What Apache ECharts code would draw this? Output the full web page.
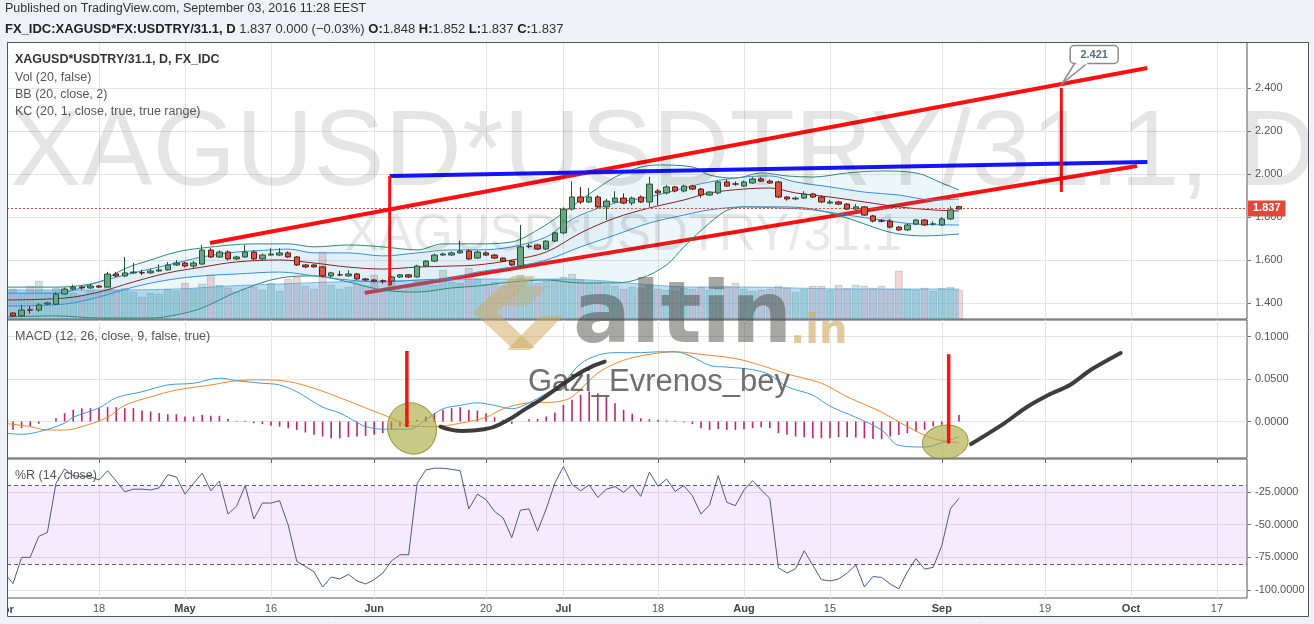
<!DOCTYPE html>
<html>
<head>
<meta charset="utf-8">
<title>XAGUSD*USDTRY/31.1, D</title>
<script src="https://cdn.jsdelivr.net/npm/echarts@6.0.0/dist/echarts.min.js"></script>
<style>
html,body{margin:0;padding:0;background:#eef1f5;overflow:hidden;}
#chart{width:1314px;height:624px;}
</style>
</head>
<body>
<div id="chart"></div>
<script>
// ================= DATA =================
// daily bars, index 0 = 2016-04-01 ; [open, close, low, high]
const ohlc = [
[1.381,1.353,1.345,1.390],[1.353,1.340,1.335,1.357],[1.340,1.367,1.336,1.391],[1.368,1.367,1.352,1.385],
[1.367,1.391,1.360,1.400],[1.395,1.400,1.390,1.405],[1.395,1.442,1.390,1.450],[1.442,1.465,1.440,1.472],
[1.465,1.474,1.460,1.485],[1.474,1.470,1.462,1.480],[1.470,1.479,1.465,1.488],[1.479,1.474,1.470,1.483],
[1.474,1.535,1.472,1.545],[1.535,1.526,1.520,1.545],[1.526,1.540,1.520,1.614],[1.540,1.544,1.535,1.586],
[1.541,1.540,1.530,1.555],[1.540,1.549,1.535,1.560],[1.549,1.554,1.545,1.580],[1.554,1.577,1.550,1.590],
[1.577,1.586,1.572,1.600],[1.586,1.572,1.565,1.592],[1.572,1.586,1.560,1.595],[1.581,1.646,1.578,1.670],
[1.646,1.614,1.610,1.655],[1.614,1.637,1.610,1.645],[1.637,1.605,1.598,1.645],[1.605,1.614,1.600,1.620],
[1.614,1.637,1.610,1.670],[1.637,1.605,1.600,1.645],[1.605,1.623,1.600,1.630],[1.623,1.628,1.620,1.655],
[1.623,1.633,1.618,1.655],[1.633,1.614,1.610,1.640],[1.614,1.577,1.572,1.618],[1.577,1.568,1.562,1.580],
[1.577,1.568,1.565,1.580],[1.568,1.526,1.520,1.572],[1.526,1.540,1.520,1.545],[1.531,1.531,1.525,1.550],
[1.526,1.535,1.522,1.552],[1.535,1.512,1.508,1.540],[1.512,1.507,1.502,1.516],[1.507,1.502,1.497,1.510],
[1.503,1.502,1.490,1.510],[1.502,1.521,1.484,1.525],[1.521,1.531,1.516,1.535],[1.531,1.521,1.516,1.535],
[1.521,1.572,1.518,1.578],[1.572,1.595,1.568,1.600],[1.595,1.623,1.590,1.630],[1.623,1.628,1.620,1.635],
[1.623,1.633,1.620,1.640],[1.633,1.642,1.630,1.690],[1.642,1.605,1.600,1.650],[1.609,1.637,1.605,1.645],
[1.633,1.623,1.620,1.640],[1.623,1.609,1.605,1.628],[1.609,1.595,1.590,1.612],[1.595,1.577,1.572,1.600],
[1.572,1.661,1.568,1.763],[1.662,1.665,1.655,1.675],[1.670,1.651,1.646,1.675],[1.651,1.688,1.646,1.692],
[1.688,1.726,1.684,1.730],[1.726,1.837,1.720,1.845],[1.837,1.893,1.830,1.967],[1.893,1.870,1.860,1.940],
[1.870,1.893,1.865,1.935],[1.893,1.847,1.840,1.900],[1.847,1.874,1.786,1.885],[1.870,1.888,1.865,1.920],
[1.888,1.865,1.860,1.910],[1.865,1.888,1.855,1.895],[1.893,1.870,1.865,1.900],[1.870,1.953,1.847,1.986],
[1.921,1.912,1.856,1.930],[1.912,1.940,1.905,1.950],[1.940,1.921,1.915,1.945],[1.921,1.944,1.915,1.950],
[1.944,1.930,1.925,1.950],[1.930,1.902,1.890,1.935],[1.902,1.916,1.898,1.920],[1.912,1.963,1.905,1.970],
[1.963,1.944,1.940,1.975],[1.954,1.953,1.945,1.965],[1.944,1.963,1.940,1.970],[1.958,1.977,1.955,1.985],
[1.977,1.967,1.963,1.985],[1.967,1.958,1.955,1.975],[1.963,1.893,1.888,1.968],[1.893,1.884,1.876,1.897],
[1.884,1.888,1.878,1.895],[1.888,1.907,1.884,1.920],[1.907,1.893,1.888,1.912],[1.893,1.870,1.865,1.900],
[1.865,1.870,1.860,1.880],[1.870,1.860,1.855,1.875],[1.860,1.837,1.832,1.865],[1.837,1.847,1.832,1.860],
[1.847,1.809,1.805,1.850],[1.805,1.781,1.775,1.810],[1.782,1.781,1.775,1.790],[1.781,1.753,1.748,1.790],
[1.753,1.740,1.735,1.757],[1.740,1.763,1.735,1.770],[1.767,1.786,1.762,1.790],[1.786,1.763,1.758,1.790],
[1.767,1.768,1.760,1.780],[1.763,1.791,1.758,1.800],[1.791,1.833,1.785,1.850],[1.848,1.837,1.837,1.852]
];
// volume (relative units)
const volume = [28,30,26,33,38,27,31,29,26,24, 28,27,33,29,31,27,22,26,25,30, 28,36,30,35,44,34,31,27,30,32,
 29,36,28,40,42,33,30,67,34,30, 32,35,33,44,30,36,29,33,38,35, 34,49,37,36,51,40,35,37,33,38,
 44,39,36,38,40,42,45,39,36,37, 34,33,30,32,31,34,30,29,28,31, 30,32,29,31,33,36,30,28,29,30,
 33,31,27,30,33,33,29,34,31,34, 33,31,33,30,48,30,29,31,28,31, 32,29];
const volumeMA = [[0,29],[10,29],[20,30],[26,33],[32,35],[38,37],[44,38],[50,39],[56,40],[62,40],[68,39],[74,35],[80,32],[86,32],[92,31],[98,30],[104,30],[111,30]];
// Bollinger (20, close, 2)
const bbUpper = [[0,1.474],[6,1.474],[11,1.498],[14,1.56],[17,1.600],[20,1.637],[23,1.656],[29,1.675],[33,1.675],[36,1.661],[40,1.670],[44,1.661],[48,1.647],[51,1.675],[55,1.675],[59,1.684],[62,1.74],[65,1.819],[68,1.907],[72,2.005],[76,2.042],[80,2.033],[82,1.995],[85,1.981],[88,2.005],[91,1.991],[94,1.986],[98,2.005],[102,2.014],[106,2.005],[109,1.958],[111,1.926]];
const bbLower = [[0,1.335],[6,1.340],[11,1.330],[17,1.330],[20,1.345],[23,1.377],[27,1.451],[32,1.516],[36,1.526],[40,1.498],[44,1.460],[48,1.451],[52,1.470],[55,1.479],[59,1.498],[63,1.507],[67,1.493],[71,1.493],[74,1.515],[77,1.577],[79,1.661],[82,1.772],[84,1.830],[86,1.847],[90,1.847],[94,1.837],[98,1.795],[102,1.740],[104,1.721],[107,1.712],[111,1.721]];
const bbBasis = [[0,1.414],[7,1.423],[11,1.451],[15,1.498],[19,1.540],[23,1.567],[27,1.591],[32,1.600],[36,1.586],[40,1.567],[44,1.558],[48,1.567],[52,1.572],[55,1.577],[59,1.600],[63,1.637],[67,1.726],[71,1.795],[75,1.842],[79,1.879],[82,1.912],[86,1.930],[89,1.935],[92,1.912],[96,1.893],[100,1.870],[104,1.847],[108,1.833],[111,1.828]];
// Keltner (20, 1)
const kcUpper = [[0,1.446],[6,1.446],[11,1.498],[15,1.540],[19,1.577],[23,1.614],[27,1.637],[31,1.647],[33,1.651],[36,1.633],[40,1.633],[44,1.619],[48,1.633],[52,1.647],[55,1.647],[59,1.661],[63,1.707],[65,1.763],[67,1.809],[71,1.865],[75,1.893],[79,1.935],[82,1.963],[86,1.986],[89,1.991],[92,1.963],[96,1.940],[100,1.916],[104,1.902],[108,1.879],[111,1.884]];
const kcLower = [[0,1.386],[7,1.395],[11,1.428],[15,1.474],[19,1.507],[23,1.526],[27,1.535],[32,1.544],[36,1.526],[40,1.507],[44,1.498],[48,1.507],[52,1.516],[55,1.544],[59,1.567],[63,1.600],[67,1.661],[71,1.716],[75,1.772],[79,1.809],[82,1.833],[86,1.847],[90,1.842],[94,1.833],[98,1.809],[102,1.786],[106,1.767],[111,1.763]];
// MACD (12, 26, 9)
const macdLine = [[0,-0.0135],[2,-0.015],[4,-0.012],[7,-0.002],[8,0.005],[11,0.016],[13,0.028],[16,0.035],[19,0.043],[22,0.045],[25,0.051],[27,0.048],[30,0.045],[32,0.043],[34,0.035],[37,0.017],[39,0.010],[41,-0.001],[42,-0.006],[44,-0.009],[47,-0.009],[49,0.002],[51,0.015],[53,0.019],[55,0.022],[57,0.019],[59,0.015],[61,0.022],[63,0.033],[65,0.046],[67,0.068],[69,0.078],[71,0.081],[74,0.081],[76,0.082],[78,0.082],[80,0.076],[82,0.066],[84,0.064],[87,0.061],[89,0.055],[91,0.041],[94,0.031],[96,0.018],[99,0.005],[102,-0.010],[104,-0.028],[107,-0.030],[109,-0.025],[111,-0.018]];
const signalLine = [[0,-0.002],[3,-0.006],[5,-0.010],[7,-0.010],[9,-0.006],[12,0.005],[14,0.019],[17,0.029],[20,0.037],[24,0.043],[27,0.048],[30,0.049],[33,0.047],[36,0.039],[39,0.028],[42,0.016],[45,0.004],[47,-0.005],[50,-0.006],[53,-0.002],[56,0.005],[58,0.015],[61,0.022],[64,0.023],[66,0.029],[69,0.057],[72,0.072],[75,0.079],[78,0.082],[81,0.079],[85,0.074],[88,0.066],[91,0.056],[95,0.045],[98,0.029],[102,0.011],[105,-0.006],[108,-0.020],[111,-0.025]];
const macdHist = [-0.011,-0.0098,-0.0078,-0.0059,-0.0027,0,0.0039,0.0098,0.0137,0.0157,0.0157,0.0157,0.0169,0.0169,0.0157,0.0157,0.0129,0.0118,0.0098,0.0086,0.0086,0.0059,0.0059,0.0078,0.0067,0.0067,0.0031,0.0008,0.0008,-0.002,-0.0031,-0.0051,-0.0059,-0.0078,-0.0098,-0.0129,-0.0157,-0.0176,-0.0196,-0.0196,-0.0184,-0.0176,-0.0169,-0.0157,-0.0137,-0.0098,-0.0059,-0.002,0.002,0.0059,0.0098,0.0137,0.0157,0.0169,0.0137,0.0129,0.0098,0.0051,0.002,-0.0027,0,0.0027,0.0031,0.0059,0.0106,0.0196,0.0255,0.0314,0.0353,0.0333,0.0294,0.0216,0.0137,0.009,0.0039,0.0027,0.002,
 0.0012,0.0008,-0.0012,-0.0031,-0.0078,-0.0098,-0.009,-0.0098,-0.0098,-0.009,-0.0078,-0.0067,-0.0078,-0.0137,-0.0157,-0.0176,-0.0184,-0.0196,-0.0196,-0.0196,-0.0184,-0.0184,-0.0188,-0.0196,-0.0204,-0.0208,-0.0176,-0.0157,-0.0137,-0.0118,-0.0098,-0.0059,-0.0039,0,0.0078];
// Williams %R (14)
const willR = [-87,-95,-75,-75,-59,-56,-18.5,-7.6,-12.7,-13.5,-13.5,-16,-9,-16.8,-25,-23,-23,-23.6,-22,-12,-13.7,-26.8,-18.5,-10.8,-24.2,-16.8,-42,-36,-20.3,-45.8,-33.6,-33.6,-31.8,-50.4,-78,-82,-86,-97.6,-90,-91.5,-88,-93,-95.3,-92,-87,-77.8,-73,-73,-18.5,-8.4,-7,-7,-7.9,-8.9,-38,-26.8,-31,-40,-45,-60,-39,-38,-55,-38,-18.5,-5.8,-19.3,-24.2,-19.7,-29.3,-23,-21,-25.4,-19.7,-28.5,-10,-20.8,
 -15.3,-24.7,-20.3,-28,-42,-35,-12.7,-33,-35.6,-23.6,-16.5,-23.6,-30,-83,-87,-83.6,-70,-81,-92,-93,-91.5,-87,-80.8,-97.6,-89.6,-90.3,-95.3,-99,-86,-76,-84,-82.6,-66,-38,-30];
// axis ticks
const xTicks = [[0,'Apr',1],[11,'18',0],[21,'May',1],[31,'16',0],[43,'Jun',1],[56,'20',0],[65,'Jul',1],[76,'18',0],[86,'Aug',1],[96,'15',0],[109,'Sep',1],[121,'19',0],[131,'Oct',1],[141,'17',0]];
const priceTicks = [1.4,1.6,1.8,2.0,2.2,2.4];
const macdTicks = [0,0.05,0.1];
const willTicks = [-100,-75,-50,-25];
const willBand = [-20,-80];
// texts
const publishedText = 'Published on TradingView.com, September 03, 2016 11:28 EEST';
const symbolFull = 'FX_IDC:XAGUSD*FX:USDTRY/31.1, D';
const changeText = '0.000 (\u22120.03%)';
const legendLines = ['XAGUSD*USDTRY/31.1, D, FX_IDC','Vol (20, false)','BB (20, close, 2)','KC (20, 1, close, true, true range)'];
const macdTitle = 'MACD (12, 26, close, 9, false, true)';
const willTitle = '%R (14, close)';
const watermarkBig = 'XAGUSD*USDTRY/31.1, D';
const watermarkSmall = 'XAGUSD*USDTRY/31.1';
const authorText = 'Gazi_Evrenos_bey';
// user drawings (data coordinates: bar index, value)
const upperTrend = [[23.9,1.679],[132.9,2.493]];
const lowerTrend = [[41.9,1.447],[131.7,2.037]];
const blueLevel = [[44.8,1.991],[132.9,2.056]];
const riseMark = [[44.8,1.991],[44.8,1.480]];
const targetMark = [[122.9,2.400],[122.9,1.916]];
const calloutAt = [123.0,2.421];
const calloutText = '2.421';
const macdMark1 = [[46.8,0.083],[46.8,-0.0065]];
const macdMark2 = [[109.8,0.079],[109.8,-0.0257]];
const crossZones = [[47.4,-0.0082],[109.4,-0.0241]];
const sketch1 = [[50.7,-0.0061],[53.3,-0.0112],[55.8,-0.0092],[58.2,-0.0002],[60.7,0.0155],[62.6,0.0273],[65.1,0.045],[67.5,0.0606],[69.8,0.0704]];
const sketch2 = [[112.4,-0.0265],[116.3,-0.0018],[118.9,0.0171],[121.4,0.0312],[123.9,0.0429],[126.3,0.0606],[129.8,0.0806]];

// ================= LAYOUT / STYLE =================
const FONT = '"Liberation Sans", Arial, sans-serif';
const xMin = 0.302, xMax = 144.49;
const pMin = 1.3256, pMax = 2.614;
const volMax = 277;
const mMin = -0.0429, mMax = 0.1194;
const rMin = -106, rMax = 0;
const BORDER = '#555';
const GRIDC = '#e4e4e4';
const BG = '#eef1f5';
const zoneShapes = [{rx:24, ry:26, rot:0.5},{rx:23, ry:17, rot:0.12}];

const tickIdx = xTicks.map(t => t[0]);
const tickText = {};
xTicks.forEach(t => { tickText[t[0]] = t[2] ? '{m|' + t[1] + '}' : t[1]; });
const last = ohlc[ohlc.length - 1];

const chart = echarts.init(document.getElementById('chart'), null, {renderer:'canvas', width:1314, height:624});

function xAx(gi, labels) {
  return {
    type:'value', gridIndex:gi, min:xMin, max:xMax,
    axisLine:{show:false},
    axisTick:{show:labels, customValues:tickIdx, length:4, lineStyle:{color:'#666'}},
    axisLabel:{show:labels, customValues:tickIdx, margin:5, fontSize:11, fontFamily:FONT, color:'#555',
      formatter: v => tickText[v] || '', rich:{m:{fontWeight:'bold', color:'#444', fontSize:11, fontFamily:FONT}}},
    splitLine:{show:true, lineStyle:{color:GRIDC, width:1}}
  };
}
function yAx(gi, min, max, ticks, digits, show) {
  return {
    type:'value', gridIndex:gi, min, max, position:'right', show: show !== false,
    axisLine:{show:false},
    axisTick:{show:true, customValues:ticks, length:4, lineStyle:{color:'#777'}},
    axisLabel:{customValues:ticks, margin:8, fontSize:11, fontFamily:FONT, color:'#555',
      formatter: v => v.toFixed(digits)},
    splitLine:{show:true, lineStyle:{color:GRIDC, width:1}}
  };
}
function line(data, color, z, width, xi, yi, extra) {
  return Object.assign({type:'line', xAxisIndex:xi, yAxisIndex:yi, data, symbol:'none', smooth:0.35,
    silent:true, z, lineStyle:{color, width}}, extra || {});
}
function bandFill(upper, lower, color) {
  return {
    type:'custom', xAxisIndex:0, yAxisIndex:0, clip:true, silent:true, z:3,
    data:[[50, 1.6]],
    renderItem: (params, api) => {
      const pts = upper.map(p => api.coord(p)).concat(lower.slice().reverse().map(p => api.coord(p)));
      return {type:'polygon', shape:{points:pts}, style:{fill:color}};
    }
  };
}

const option = {
  backgroundColor:'#ffffff',
  animation:false,
  grid:[
    {left:7, top:42, width:1240, height:277, show:true, borderColor:BORDER, borderWidth:1, backgroundColor:'transparent'},
    {left:7, top:320, width:1240, height:138, show:true, borderColor:BORDER, borderWidth:1, backgroundColor:'transparent'},
    {left:7, top:459, width:1240, height:139, show:true, borderColor:BORDER, borderWidth:1, backgroundColor:'transparent'}
  ],
  xAxis:[xAx(0,false), xAx(1,false), xAx(2,true)],
  yAxis:[
    yAx(0, pMin, pMax, priceTicks, 3),
    {type:'value', gridIndex:0, min:0, max:volMax, show:false, splitLine:{show:false}},
    yAx(1, mMin, mMax, macdTicks, 4),
    yAx(2, rMin, rMax, willTicks, 4)
  ],
  series:[
    // volume
    {type:'bar', xAxisIndex:0, yAxisIndex:1, z:1, barWidth:7.4, silent:true,
     data: volume.map((v,i) => ({value:[i,v], itemStyle:{color: ohlc[i][1] >= ohlc[i][0] ? 'rgba(110,175,125,0.32)' : 'rgba(225,120,110,0.30)',
       borderColor:'rgba(70,115,160,0.45)', borderWidth:0.6}}))},
    // lower channel line (beneath the volume average area)
    line(lowerTrend, '#ff1010', 2, 4, 0, 0, {smooth:false}),
    // volume average area
    line(volumeMA, 'rgba(60,150,215,0.6)', 3, 1, 0, 1, {smooth:0.4, areaStyle:{color:'rgba(60,155,215,0.48)', origin:'start'}}),
    // band fills
    bandFill(bbUpper, bbLower, 'rgba(25,135,160,0.08)'),
    bandFill(kcUpper, kcLower, 'rgba(33,150,243,0.06)'),
    // band lines
    line(bbUpper, '#2f8a78', 4, 1, 0, 0),
    line(bbLower, '#2f8a78', 4, 1, 0, 0),
    line(kcUpper, '#3a8fd6', 4, 1, 0, 0),
    line(kcLower, '#3a8fd6', 4, 1, 0, 0),
    line(bbBasis, '#872323', 4, 1, 0, 0),
    // candles
    {type:'candlestick', xAxisIndex:0, yAxisIndex:0, z:5, barWidth:6, silent:true,
     data: ohlc.map((d,i) => [i, d[0], d[1], d[2], d[3]]),
     encode:{x:0, y:[1,2,3,4]},
     itemStyle:{color:'#6ba583', color0:'#d75442', borderColor:'#225437', borderColor0:'#5b1a13', borderWidth:1},
     markLine:{silent:true, symbol:'none', animation:false,
       lineStyle:{color:'#e0483a', type:[2,2], width:1},
       label:{show:true, position:'end', formatter: last[1].toFixed(3), color:'#fff', backgroundColor:'#e0483a',
         fontWeight:'bold', fontSize:11, fontFamily:FONT, padding:[3,5,2,5], distance:1},
       data:[{yAxis:last[1]}]}},
    // drawings on price pane
    line(upperTrend, '#ff1010', 6, 4, 0, 0, {smooth:false}),
    line(blueLevel, '#1414ff', 6, 4, 0, 0, {smooth:false}),
    line(riseMark, '#ff1010', 6, 3, 0, 0, {smooth:false}),
    line(targetMark, '#ff1010', 6, 3, 0, 0, {smooth:false}),
    // MACD pane
    {type:'bar', xAxisIndex:1, yAxisIndex:2, z:2, barWidth:1.6, silent:true,
     data: macdHist.map((v,i) => [i,v]), itemStyle:{color:'#c0246a'}},
    line(signalLine, '#f5862f', 3, 1, 1, 2),
    line(macdLine, '#3f9be0', 3, 1, 1, 2),
    {type:'custom', xAxisIndex:1, yAxisIndex:2, clip:true, silent:true, z:4,
     data: crossZones,
     renderItem: (params, api) => {
       const c = api.coord([api.value(0), api.value(1)]);
       const s = zoneShapes[params.dataIndex];
       return {type:'ellipse', x:c[0], y:c[1], rotation:s.rot, shape:{cx:0, cy:0, rx:s.rx, ry:s.ry},
         style:{fill:'rgba(168,168,58,0.62)', stroke:'rgba(140,140,40,0.85)', lineWidth:1}};
     }},
    line(macdMark1, '#ff1010', 5, 3.5, 1, 2, {smooth:false}),
    line(macdMark2, '#ff1010', 5, 3.5, 1, 2, {smooth:false}),
    line(sketch1, '#333333', 60, 4, 1, 2, {smooth:0.5, lineStyle:{color:'rgba(45,45,45,0.92)', width:4, cap:'round'}}),
    line(sketch2, '#333333', 60, 4, 1, 2, {smooth:0.3, lineStyle:{color:'rgba(45,45,45,0.92)', width:4, cap:'round'}}),
    // %R pane
    {type:'line', xAxisIndex:2, yAxisIndex:3, z:3, symbol:'none', silent:true,
     data: willR.map((v,i) => [i,v]), lineStyle:{color:'#4a5a8c', width:1},
     markArea:{silent:true, itemStyle:{color:'rgba(153,21,255,0.09)'}, data:[[{yAxis:willBand[0]},{yAxis:willBand[1]}]]},
     markLine:{silent:true, symbol:'none', label:{show:false}, lineStyle:{color:'#5b5b7a', type:[4,3], width:1},
       data:[{yAxis:willBand[0]},{yAxis:willBand[1]}]}}
  ]
};
chart.setOption(option);

// ---- overlay graphics (positions of data-anchored ones taken from the axes) ----
const a = chart.convertToPixel({xAxisIndex:0, yAxisIndex:0}, calloutAt);
const aprX = chart.convertToPixel({xAxisIndex:2}, xTicks[0][0]);

const T = (text, x, y, size, color, weight, z, extra) => Object.assign({
  type:'text', z: z || 30, silent:true,
  style:{text, x, y, fontSize:size, fontFamily:FONT, fontWeight:weight || 'normal', fill:color, align:'left', verticalAlign:'middle'}
}, extra || {});

const graphics = [
  // watermarks
  T(watermarkBig, 10, 155, 107, 'rgba(0,0,0,0.10)', 'normal', 0),
  T(watermarkSmall, 345, 236, 51, 'rgba(0,0,0,0.095)', 'normal', 0),
  // logo
  {type:'polygon', z:40, silent:true, shape:{points:[[512,276],[535,276],[497,312],[535,348],[512,348],[473,312]]}, style:{fill:'rgba(205,168,90,0.50)'}},
  {type:'polygon', z:40, silent:true, shape:{points:[[540,316],[563,316],[530,350],[507,350]]}, style:{fill:'rgba(205,168,90,0.50)'}},
  {type:'polygon', z:40, silent:true, shape:{points:[[522,286],[548,286],[528,306],[503,306]]}, style:{fill:'rgba(205,168,90,0.35)'}},
  {type:'text', z:40, silent:true, style:{text:'altin', x:573, y:319.5, fontSize:86, fontFamily:'"DejaVu Sans", sans-serif', fontWeight:'bold', fill:'rgba(70,70,60,0.48)', verticalAlign:'middle'}},
  {type:'text', z:40, silent:true, style:{text:'.in', x:790, y:333, fontSize:40, fontFamily:'"DejaVu Sans", sans-serif', fontWeight:'bold', fill:'rgba(205,168,90,0.6)', verticalAlign:'middle'}},
  T(authorText, 528, 382, 31, 'rgba(95,95,95,0.9)', 'normal', 50),
  // pane legends
  T(legendLines[0], 15, 60, 12.5, '#333', 'bold', 30),
  T(legendLines[1], 15, 77.5, 12.5, '#555', 'normal', 30),
  T(legendLines[2], 15, 95, 12.5, '#555', 'normal', 30),
  T(legendLines[3], 15, 112, 12.5, '#555', 'normal', 30),
  T(macdTitle, 15, 337, 12.5, '#555', 'normal', 30),
  T(willTitle, 15, 476, 12.5, '#555', 'normal', 30),
  // partially hidden first date label
  T(xTicks[0][1], aprX, 609, 11, '#444', 'bold', 30, {style:{text:xTicks[0][1], x:aprX, y:609.5, fontSize:11, fontFamily:FONT, fontWeight:'bold', fill:'#444', align:'center', verticalAlign:'middle'}}),
  // callout of the target price
  {type:'group', x:a[0], y:a[1], z:120, silent:true, children:[
    {type:'polygon', z:120, shape:{points:[[0,0],[13,-21],[26,-21]]}, style:{fill:'#fff', stroke:'#8a8a8a', lineWidth:1.5}},
    {type:'rect', z:121, shape:{x:8, y:-38, width:48, height:18, r:4}, style:{fill:'#fff', stroke:'#8a8a8a', lineWidth:1.5}},
    {type:'rect', z:122, shape:{x:14, y:-22, width:11, height:3}, style:{fill:'#fff'}},
    {type:'text', z:123, style:{text:calloutText, x:32, y:-29, fontSize:11, fontWeight:'bold', fontFamily:FONT, fill:'#5a6b7d', align:'center', verticalAlign:'middle'}}
  ]},
  // outside areas and frame
  {type:'rect', z:200, silent:true, shape:{x:0, y:0, width:1314, height:42}, style:{fill:BG}},
  {type:'rect', z:200, silent:true, shape:{x:0, y:42, width:7, height:582}, style:{fill:BG}},
  {type:'rect', z:200, silent:true, shape:{x:1309, y:42, width:5, height:582}, style:{fill:BG}},
  {type:'rect', z:200, silent:true, shape:{x:0, y:617, width:1314, height:7}, style:{fill:BG}},
  {type:'rect', z:201, silent:true, shape:{x:7.5, y:42.5, width:1301, height:574}, style:{fill:'none', stroke:BORDER, lineWidth:1}},
  // header
  T(publishedText, 5, 9, 12.5, '#333', 'normal', 202),
  {type:'text', z:202, silent:true, style:{
    text:'{b|' + symbolFull + '} {n|' + last[1].toFixed(3) + ' ' + changeText + '} {b|O:}{n|' + last[0].toFixed(3) + '} {b|H:}{n|' + last[3].toFixed(3) + '} {b|L:}{n|' + last[2].toFixed(3) + '} {b|C:}{n|' + last[1].toFixed(3) + '}',
    x:5, y:29, verticalAlign:'middle', fontSize:13, fontFamily:FONT,
    rich:{b:{fontWeight:'bold', fontSize:13, fontFamily:FONT, fill:'#222'}, n:{fontSize:13, fontFamily:FONT, fill:'#333'}}}}
];
chart.setOption({graphic: graphics});
</script>
</body>
</html>
